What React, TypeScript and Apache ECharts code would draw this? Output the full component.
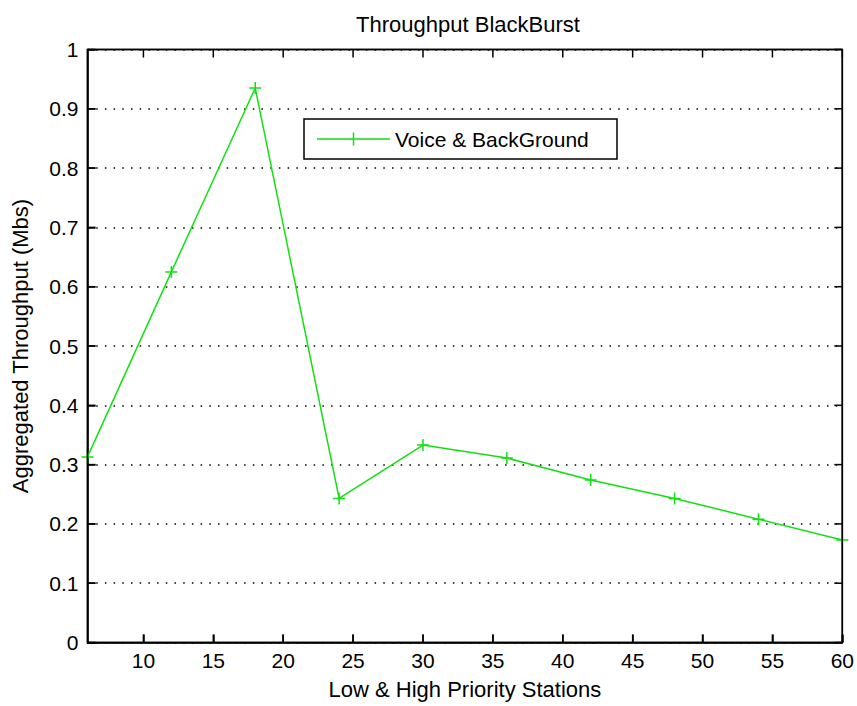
import React, { useEffect, useRef } from "react";
import * as echarts from "echarts";

const stations = [6, 12, 18, 24, 30, 36, 42, 48, 54, 60];
const throughput = [0.313, 0.625, 0.935, 0.243, 0.333, 0.311, 0.274, 0.243, 0.208, 0.173];
const xTicks = [10, 15, 20, 25, 30, 35, 40, 45, 50, 55, 60];
const yTicks = [0, 0.1, 0.2, 0.3, 0.4, 0.5, 0.6, 0.7, 0.8, 0.9, 1];
const xRange = [6, 60];
const yRange = [0, 1];
const seriesName = "Voice & BackGround";
const titleText = "Throughput BlackBurst";
const xName = "Low & High Priority Stations";
const yName = "Aggregated Throughput (Mbs)";

const FONT = "'Liberation Sans', Arial, sans-serif";
const GREEN = "#12e012";
const FS = 22;
const TFS = 21;

export default function App() {
  const ref = useRef<HTMLDivElement>(null);
  useEffect(() => {
    document.body.style.margin = "0";
    const chart = echarts.init(ref.current!, null, { renderer: "svg" });
    const plusPath = "path://M5.25,0h1.5v12h-1.5z M0,5.25h12v1.5h-12z";
    const points = stations.map((s, i) => [s, throughput[i]]);
    const T = 8;

    const frameRender = (_params: any, api: any) => {
      const tl = api.coord([xRange[0], yRange[1]]);
      const br = api.coord([xRange[1], yRange[0]]);
      const style = { stroke: "#000", lineWidth: 1.5, fill: null };
      const children: any[] = [
        { type: "line", shape: { x1: tl[0], y1: tl[1], x2: br[0], y2: tl[1] }, style },
        { type: "line", shape: { x1: br[0], y1: tl[1], x2: br[0], y2: br[1] }, style },
        { type: "line", shape: { x1: tl[0], y1: br[1], x2: br[0], y2: br[1] }, style },
        { type: "line", shape: { x1: tl[0], y1: tl[1], x2: tl[0], y2: br[1] }, style },
      ];
      xTicks.forEach((v) => {
        const p = api.coord([v, yRange[0]])[0];
        children.push({ type: "line", shape: { x1: p, y1: br[1], x2: p, y2: br[1] - T }, style });
        children.push({ type: "line", shape: { x1: p, y1: tl[1], x2: p, y2: tl[1] + T }, style });
      });
      yTicks.forEach((v) => {
        const p = api.coord([xRange[0], v])[1];
        children.push({ type: "line", shape: { x1: tl[0], y1: p, x2: tl[0] + T, y2: p }, style });
        children.push({ type: "line", shape: { x1: br[0], y1: p, x2: br[0] - T, y2: p }, style });
      });
      return { type: "group", children };
    };

    chart.setOption({
      animation: false,
      backgroundColor: "#fff",
      title: {
        text: titleText,
        left: 463,
        top: 8,
        textAlign: "center",
        textStyle: { fontFamily: FONT, fontSize: FS, fontWeight: "normal", color: "#000" },
      },
      grid: {
        left: 87.5,
        top: 49.5,
        right: 14,
        bottom: 63.5,
        show: true,
        borderColor: "#000",
        borderWidth: 1.5,
        backgroundColor: "#fff",
      },
      legend: {
        data: [seriesName],
        left: 317,
        top: 127,
        padding: 0,
        itemWidth: 73,
        itemHeight: 14,
        itemGap: 0,
        icon: "path://M0,6.25h73v1.5h-73z M35.75,0.5h1.5v13h-1.5z",
        textStyle: { fontFamily: FONT, fontSize: TFS, color: "#000", lineHeight: 24 },
      },
      graphic: [
        {
          type: "rect",
          shape: { x: 304, y: 119, width: 313, height: 40 },
          style: { fill: "none", stroke: "#000", lineWidth: 1.5 },
          z: 10,
          silent: true,
        },
      ],
      xAxis: {
        type: "value",
        min: xRange[0],
        max: xRange[1],
        name: xName,
        nameLocation: "middle",
        nameGap: 36,
        nameTextStyle: { fontFamily: FONT, fontSize: FS, color: "#000" },
        axisLine: { show: true, onZero: false, lineStyle: { color: "#000", width: 1.5 } },
        axisTick: { show: true, inside: true, length: T, customValues: xTicks, lineStyle: { color: "#000", width: 1.5 } },
        axisLabel: { customValues: xTicks, fontFamily: FONT, fontSize: TFS, color: "#000", margin: 7 },
        splitLine: { show: false },
      },
      yAxis: {
        type: "value",
        min: yRange[0],
        max: yRange[1],
        interval: 0.1,
        name: yName,
        nameLocation: "middle",
        nameGap: 56,
        nameTextStyle: { fontFamily: FONT, fontSize: FS, color: "#000" },
        axisLine: { show: true, onZero: false, lineStyle: { color: "#000", width: 1.5 } },
        axisTick: { show: true, inside: true, length: T, lineStyle: { color: "#000", width: 1.5 } },
        axisLabel: { fontFamily: FONT, fontSize: TFS, color: "#000", margin: 9 },
        splitLine: {
          show: true,
          lineStyle: { color: "#000", width: 1.5, type: [1.5, 7.2] },
        },
      },
      series: [
        {
          name: "_frame",
          type: "custom",
          data: [[xRange[0], yRange[0]]],
          renderItem: frameRender,
          clip: false,
          silent: true,
          z: 8,
        },
        {
          name: seriesName,
          type: "line",
          data: points,
          symbol: plusPath,
          symbolSize: 12,
          showAllSymbol: true,
          lineStyle: { color: GREEN, width: 1.5 },
          itemStyle: { color: GREEN },
          z: 5,
        },
      ],
    });

    return () => chart.dispose();
  }, []);
  return <div ref={ref} style={{ width: 857, height: 706 }} />;
}
